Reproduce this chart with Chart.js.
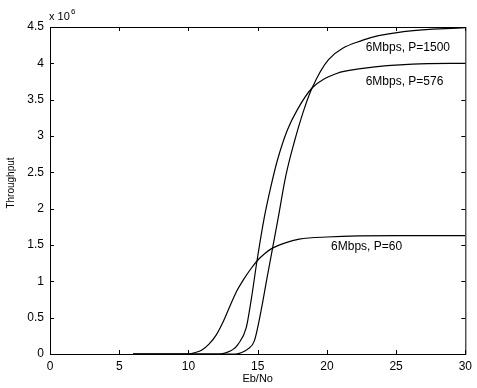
<!DOCTYPE html>
<html>
<head>
<meta charset="utf-8">
<script src="https://cdn.jsdelivr.net/npm/chart.js@4"></script>
<style>
  body { margin: 0; background: #fff; }
  canvas { display: block; }
</style>
</head>
<body>
<canvas id="myChart" width="477" height="388"></canvas>
<script>
// Eb/No (x) and throughput in units of 1e6 (y)
const ebnoP60 = [6, 10.0, 10.5, 11.0, 11.5, 12.0, 12.5, 13.0, 13.5, 14.0, 14.5, 15.0, 15.5, 16.0, 17.0, 18.0, 20.0, 25, 30];
const thrP60 = [0, 0, 0.02, 0.06, 0.14, 0.26, 0.44, 0.66, 0.87, 1.03, 1.17, 1.29, 1.38, 1.45, 1.53, 1.58, 1.61, 1.63, 1.63];

const ebnoP576 = [6, 12.3, 12.75, 13.2, 13.57, 14.17, 14.52, 14.95, 15.48, 15.95, 16.43, 17.14, 17.86, 18.93, 20.7, 22.6, 26.2, 30];
const thrP576 = [0, 0, 0.02, 0.06, 0.13, 0.36, 0.73, 1.28, 1.88, 2.30, 2.67, 3.08, 3.36, 3.66, 3.86, 3.93, 3.99, 4.0];

const ebnoP1500 = [6, 13.4, 13.85, 14.3, 14.76, 15.24, 15.68, 16.11, 16.49, 17.02, 17.62, 18.34, 18.93, 20.12, 22.6, 25.7, 30];
const thrP1500 = [0, 0, 0.02, 0.07, 0.18, 0.59, 1.05, 1.49, 1.88, 2.44, 2.90, 3.36, 3.66, 4.05, 4.32, 4.44, 4.49];

const seriesLabels = ['6Mbps, P=60', '6Mbps, P=576', '6Mbps, P=1500'];
// where each curve label sits, in data units
const labelX = [20.3, 22.8, 22.8];
const labelY = [1.47, 3.75, 4.21];

const xTicks = [0, 5, 10, 15, 20, 25, 30];
const yTicks = [0, 0.5, 1, 1.5, 2, 2.5, 3, 3.5, 4, 4.5];

function toPoints(xs, ys) {
    return xs.map((x, i) => ({ x: x, y: ys[i] }));
}

// box around the plot with matlab style inward ticks, curve labels and the x10^6 note
const matlabBox = {
    id: 'matlabBox',
    afterDraw(chart) {
        const ctx = chart.ctx;
        const a = chart.chartArea;
        const xs = chart.scales.x, ys = chart.scales.y;
        ctx.save();
        ctx.strokeStyle = '#000';
        ctx.lineWidth = 1;
        ctx.strokeRect(a.left + 0.5, a.top + 0.5, a.right - a.left, a.bottom - a.top);
        ctx.beginPath();
        xTicks.forEach(v => {
            const px = Math.round(xs.getPixelForValue(v)) + 0.5;
            ctx.moveTo(px, a.bottom); ctx.lineTo(px, a.bottom - 4);
            ctx.moveTo(px, a.top); ctx.lineTo(px, a.top + 4);
        });
        yTicks.forEach(v => {
            const py = Math.round(ys.getPixelForValue(v)) + 0.5;
            ctx.moveTo(a.left, py); ctx.lineTo(a.left + 4, py);
            ctx.moveTo(a.right, py); ctx.lineTo(a.right - 4, py);
        });
        ctx.stroke();

        ctx.fillStyle = '#000';
        ctx.font = '12px "Liberation Sans", Arial, sans-serif';
        ctx.textBaseline = 'middle';
        ctx.textAlign = 'left';
        seriesLabels.forEach((t, i) => {
            ctx.fillText(t, xs.getPixelForValue(labelX[i]), ys.getPixelForValue(labelY[i]));
        });

        ctx.font = '11px "Liberation Sans", Arial, sans-serif';
        ctx.fillText('x 10', a.left - 1, a.top - 10);
        ctx.font = '8px "Liberation Sans", Arial, sans-serif';
        ctx.fillText('6', a.left + 21, a.top - 15);

        // y axis title, a little above the middle like the original
        ctx.font = '10px "Liberation Sans", Arial, sans-serif';
        ctx.translate(11, 183);
        ctx.rotate(-Math.PI / 2);
        ctx.textAlign = 'center';
        ctx.fillText('Throughput', 0, 0);
        ctx.restore();
    }
};

function createChart() {
    const ctx = document.getElementById('myChart').getContext('2d');
    const common = {
        borderColor: '#000',
        borderWidth: 1.2,
        pointRadius: 0,
        fill: false,
        cubicInterpolationMode: 'monotone'
    };
    new Chart(ctx, {
        type: 'line',
        data: {
            datasets: [
                Object.assign({ label: seriesLabels[0], data: toPoints(ebnoP60, thrP60) }, common),
                Object.assign({ label: seriesLabels[1], data: toPoints(ebnoP576, thrP576) }, common),
                Object.assign({ label: seriesLabels[2], data: toPoints(ebnoP1500, thrP1500) }, common)
            ]
        },
        options: {
            responsive: false,
            animation: false,
            layout: { padding: { top: 27, right: 7, left: 0, bottom: 0 } },
            plugins: {
                legend: { display: false },
                tooltip: { enabled: false }
            },
            scales: {
                x: {
                    type: 'linear',
                    min: 0,
                    max: 30,
                    afterFit(scale) { scale.height = 34; },
                    afterBuildTicks(scale) { scale.ticks = xTicks.map(v => ({ value: v })); },
                    grid: { display: false, drawTicks: false },
                    border: { display: false },
                    ticks: {
                        color: '#000',
                        padding: 5,
                        font: { family: '"Liberation Sans", Arial, sans-serif', size: 12 },
                        callback: v => String(v)
                    },
                    title: {
                        display: true,
                        text: 'Eb/No',
                        color: '#000',
                        padding: { top: 0, bottom: 2 },
                        font: { family: '"Liberation Sans", Arial, sans-serif', size: 11 }
                    }
                },
                y: {
                    min: 0,
                    max: 4.5,
                    afterFit(scale) { scale.width = 50; },
                    afterBuildTicks(scale) { scale.ticks = yTicks.map(v => ({ value: v })); },
                    grid: { display: false, drawTicks: false },
                    border: { display: false },
                    ticks: {
                        color: '#000',
                        padding: 6,
                        font: { family: '"Liberation Sans", Arial, sans-serif', size: 12 },
                        callback: v => String(v)
                    }
                }
            }
        },
        plugins: [matlabBox]
    });
}

document.addEventListener('DOMContentLoaded', createChart);
</script>
</body>
</html>
